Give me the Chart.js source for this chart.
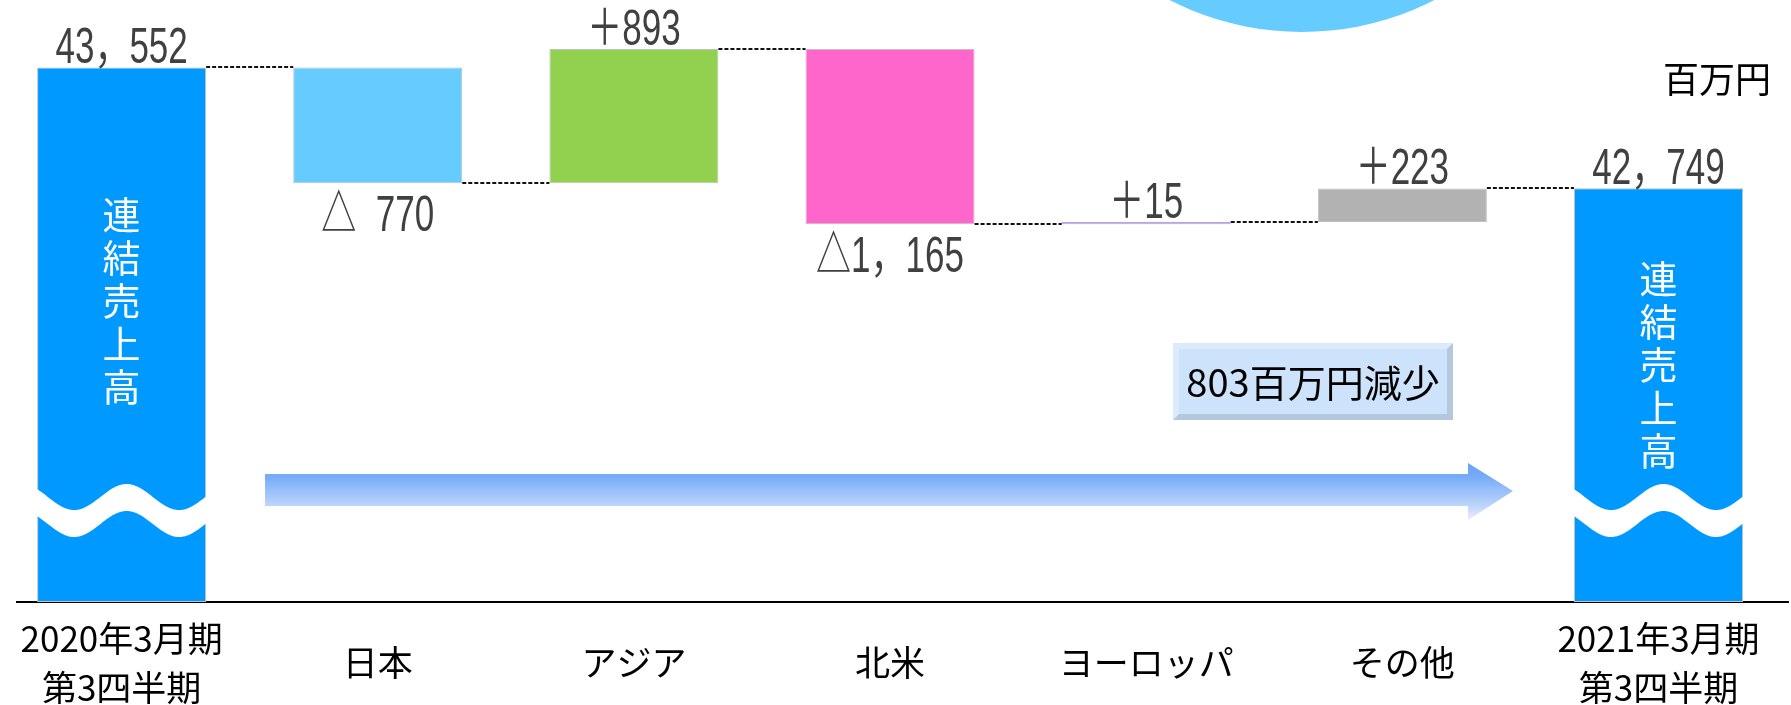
<!DOCTYPE html>
<html lang="ja">
<head>
<meta charset="utf-8">
<title>連結売上高 増減</title>
<script src="https://cdn.jsdelivr.net/npm/chart.js@4.4.1/dist/chart.umd.min.js"></script>
<style>
  html, body { margin: 0; padding: 0; background: #fff; }
  #wrap { position: relative; width: 1791px; height: 705px; }
</style>
</head>
<body>
<div id="wrap"><canvas id="bridge"></canvas></div>
<script>
// categories along the bottom
const categories = [
  ["2020年3月期", "第3四半期"], "日本", "アジア", "北米", "ヨーロッパ", "その他", ["2021年3月期", "第3四半期"]
];
// totals and regional changes (百万円)
const startTotal = 43552;
const regionChanges = [-770, 893, -1165, 15, 223];
const endTotal = 42749;
const valueLabels = ["43，552", "△  770", "＋893", "△1，165", "＋15", "＋223", "42，749"];
const barColors = ["#0099ff", "#66ccff", "#92d050", "#ff66cc", "#b9a3e3", "#b2b2b2", "#0099ff"];
const axisMin = 40000;
const axisMax = 44000;
const unitLabel = "百万円";
const totalLabel = "連結売上高";
const diffLabel = "803百万円減少";

// floating bars: [from, to] for each column
const floating = [{ x: 0, y: [axisMin, startTotal] }];
const levels = [startTotal];
let running = startTotal;
regionChanges.forEach((d, i) => {
  floating.push({ x: i + 1, y: [running, running + d] });
  running += d;
  levels.push(running);
});
floating.push({ x: categories.length - 1, y: [axisMin, endTotal] });
levels.push(endTotal);

const borderColors = barColors.map((c, i) => (i === 4 ? c : "#c0c0c0"));

const drawBreak = (ctx, left, right, mid) => {
  const period = 105, amp = 13, thick = 27;
  const peak = (left + right) / 2 + 5;
  const yAt = x => mid - amp * Math.cos(2 * Math.PI * (x - peak) / period);
  ctx.beginPath();
  ctx.moveTo(left - 2, yAt(left - 2));
  for (let x = left - 2; x <= right + 2; x++) ctx.lineTo(x, yAt(x));
  for (let x = right + 2; x >= left - 2; x--) ctx.lineTo(x, yAt(x) + thick);
  ctx.closePath();
  ctx.fillStyle = "#fff";
  ctx.fill();
};

const decorations = {
  id: "decorations",
  beforeDatasetsDraw(chart) {
    const ctx = chart.ctx;
    ctx.save();
    // light blue circle peeking in at the top
    ctx.beginPath();
    ctx.arc(1302, -258, 290, 0, Math.PI * 2);
    ctx.fillStyle = "#66ccff";
    ctx.fill();

    // gradient arrow
    const g = ctx.createLinearGradient(0, 463, 0, 520);
    g.addColorStop(0, "#6aa2f6");
    g.addColorStop(0.25, "#78acf8");
    g.addColorStop(0.75, "#bdd5fb");
    g.addColorStop(1, "#f0eaff");
    ctx.beginPath();
    ctx.moveTo(265, 474);
    ctx.lineTo(1468, 474);
    ctx.lineTo(1468, 463);
    ctx.lineTo(1513, 491);
    ctx.lineTo(1468, 520);
    ctx.lineTo(1468, 506);
    ctx.lineTo(265, 506);
    ctx.closePath();
    ctx.fillStyle = g;
    ctx.fill();

    // bevelled box
    const bx = 1173, by = 343, bw = 280, bh = 77, bv = 6;
    ctx.fillStyle = "#b3c7dd";
    ctx.fillRect(bx, by, bw, bh);
    ctx.beginPath();
    ctx.moveTo(bx, by + bh);
    ctx.lineTo(bx, by);
    ctx.lineTo(bx + bw, by);
    ctx.lineTo(bx + bw - bv, by + bv);
    ctx.lineTo(bx + bv, by + bv);
    ctx.lineTo(bx + bv, by + bh - bv);
    ctx.closePath();
    ctx.fillStyle = "#dbeafc";
    ctx.fill();
    ctx.fillStyle = "#cce3fb";
    ctx.fillRect(bx + bv, by + bv, bw - 2 * bv, bh - 2 * bv);
    ctx.fillStyle = "#000";
    ctx.font = '38px "Noto Sans CJK JP", sans-serif';
    ctx.textAlign = "center";
    ctx.textBaseline = "middle";
    ctx.fillText(diffLabel, bx + bw / 2, by + bh / 2 + 1);

    // unit
    ctx.textAlign = "right";
    ctx.font = '36px "Noto Sans CJK JP", sans-serif';
    ctx.fillText(unitLabel, 1771, 79);
    ctx.restore();
  },
  afterDatasetsDraw(chart) {
    const ctx = chart.ctx;
    const yScale = chart.scales.y;
    const bars = chart.getDatasetMeta(0).data;
    ctx.save();

    // wavy breaks and vertical captions on the total bars
    [0, bars.length - 1].forEach((idx, k) => {
      const b = bars[idx];
      drawBreak(ctx, b.x - b.width / 2, b.x + b.width / 2, 497);
      ctx.fillStyle = "#fff";
      ctx.font = '38px "Noto Sans CJK JP", sans-serif';
      ctx.textAlign = "center";
      ctx.textBaseline = "middle";
      const y0 = k === 0 ? 215 : 279;
      [...totalLabel].forEach((ch, j) => ctx.fillText(ch, b.x, y0 + j * 43));
    });

    // dashed connectors
    ctx.strokeStyle = "#111";
    ctx.lineWidth = 2;
    ctx.setLineDash([4, 2]);
    for (let i = 0; i < bars.length - 1; i++) {
      const y = Math.round(yScale.getPixelForValue(levels[i]));
      ctx.beginPath();
      ctx.moveTo(bars[i].x + bars[i].width / 2, y);
      ctx.lineTo(bars[i + 1].x - bars[i + 1].width / 2, y);
      ctx.stroke();
    }
    ctx.setLineDash([]);

    // value labels
    ctx.fillStyle = "#404040";
    ctx.font = '50px "Liberation Sans", "Noto Sans CJK JP", sans-serif';
    ctx.textAlign = "center";
    ctx.textBaseline = "alphabetic";
    bars.forEach((b, i) => {
      const top = Math.min(b.y, b.base);
      const bottom = Math.max(b.y, b.base);
      const isTotal = i === 0 || i === bars.length - 1;
      const up = isTotal || regionChanges[i - 1] > 0;
      const y = up ? top - 4 : bottom + 48;
      ctx.save();
      ctx.translate(b.x, y);
      ctx.scale(0.7, 1);
      ctx.fillText(valueLabels[i], 0, 0);
      ctx.restore();
    });
    ctx.restore();
  }
};

new Chart(document.getElementById("bridge"), {
  type: "bar",
  data: {
    datasets: [{
      data: floating,
      backgroundColor: barColors,
      borderColor: borderColors,
      borderWidth: 1,
      borderSkipped: false,
      categoryPercentage: 1,
      barPercentage: 0.66
    }]
  },
  options: {
    responsive: true,
    maintainAspectRatio: false,
    devicePixelRatio: 1,
    animation: false,
    layout: { padding: { left: 17, right: 3, top: 0, bottom: 0 } },
    plugins: { legend: { display: false }, tooltip: { enabled: false } },
    scales: {
      x: {
        type: "linear",
        offset: false,
        min: -0.4084,
        max: 6.5056,
        grid: { display: false, drawTicks: false, offset: false },
        border: { display: true, color: "#000", width: 2 },
        afterBuildTicks: axis => { axis.ticks = categories.map((c, i) => ({ value: i })); },
        afterFit: axis => {
          axis.height = 103;
          axis.paddingLeft = 0;
          axis.paddingRight = 0;
        },
        ticks: {
          autoSkip: false,
          maxRotation: 0,
          padding: 37,
          crossAlign: "center",
          color: "#000",
          font: { family: '"Noto Sans CJK JP", sans-serif', size: 35, lineHeight: 1.38 },
          callback: value => categories[value]
        }
      },
      y: {
        display: false,
        min: axisMin,
        max: axisMax
      }
    }
  },
  plugins: [decorations]
});
</script>
</body>
</html>
